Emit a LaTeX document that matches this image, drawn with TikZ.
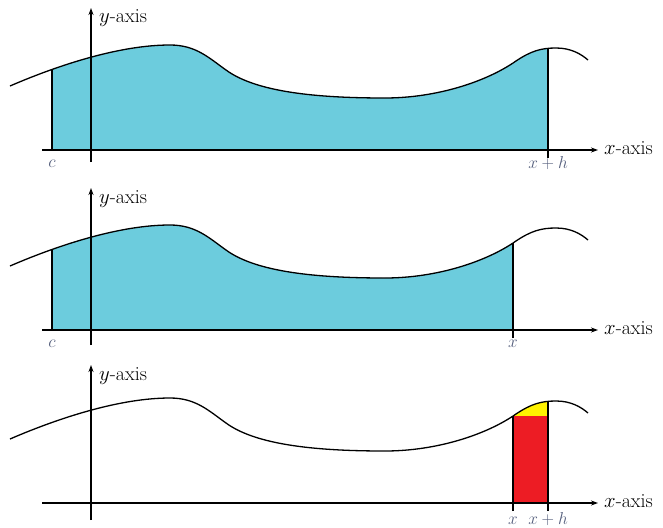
\documentclass[tikz,border=0pt]{standalone}
\usetikzlibrary{arrows.meta}
\definecolor{areacyan}{RGB}{108,204,221}
\definecolor{rectred}{RGB}{237,28,36}
\definecolor{capyellow}{RGB}{255,242,0}
\definecolor{labgray}{RGB}{85,95,125}
\newcommand{\wavecurve}{(-81,64) .. controls (-30,86) and (30,105) .. (79,105)
  .. controls (105,105) and (118,92) .. (135,80)
  .. controls (165,58) and (225,52) .. (294,52)
  .. controls (345,52) and (395,68) .. (425,89)
  .. controls (440,99) and (450,102) .. (465,102)
  .. controls (480,102) and (490,96) .. (497,90)}
\tikzset{
  axisline/.style={line width=2.2pt,-{Stealth[length=7pt,width=5pt]}},
  waveline/.style={line width=1.3pt},
  bound/.style={line width=1.2pt},
  axlabel/.style={font=\fontsize{20}{24}\selectfont,inner sep=0pt},
  ticklabel/.style={font=\fontsize{17}{20}\selectfont,text=labgray,inner sep=0pt,anchor=base}
}
\begin{document}
\begin{tikzpicture}[x=1pt,y=1pt]
\useasboundingbox (0,0) rectangle (663,-527);
% ---------- panel 1 ----------
\begin{scope}[shift={(91,-150)}]
  \begin{scope}
    \clip (-39,-1) rectangle (457,130);
    \fill[areacyan] \wavecurve -- (497,0) -- (-81,0) -- cycle;
  \end{scope}
  \coordinate (c1b) at (-39,0); \coordinate (c1t) at (-39,81);
  \coordinate (h1b) at (457,-8); \coordinate (h1t) at (457,101.5);
  \draw[bound] (c1b) -- (c1t);
  \draw[bound] (h1b) -- (h1t);
  \coordinate (xa1s) at (-49,0); \coordinate (xa1e) at (507,0);
  \coordinate (ya1s) at (0,-12); \coordinate (ya1e) at (0,142);
  \draw[axisline] (xa1s) -- (xa1e);
  \draw[axisline] (ya1s) -- (ya1e);
  \draw[waveline] \wavecurve;
  \node[axlabel,anchor=base west] (ylab1) at (8,127) {$y$-axis};
  \node[axlabel,anchor=base west] (xlab1) at (513,-4) {$x$-axis};
  \node[ticklabel] (cl1) at (-39,-17) {$c$};
  \node[ticklabel] (hl1) at (457,-18) {$x+h$};
\end{scope}
% ---------- panel 2 ----------
\begin{scope}[shift={(91,-330)}]
  \begin{scope}
    \clip (-39,-1) rectangle (422,130);
    \fill[areacyan] \wavecurve -- (497,0) -- (-81,0) -- cycle;
  \end{scope}
  \coordinate (c2b) at (-39,0); \coordinate (c2t) at (-39,81);
  \coordinate (x2b) at (422,-8); \coordinate (x2t) at (422,87);
  \draw[bound] (c2b) -- (c2t);
  \draw[bound] (x2b) -- (x2t);
  \coordinate (xa2s) at (-49,0); \coordinate (xa2e) at (507,0);
  \coordinate (ya2s) at (0,-15); \coordinate (ya2e) at (0,142);
  \draw[axisline] (xa2s) -- (xa2e);
  \draw[axisline] (ya2s) -- (ya2e);
  \draw[waveline] \wavecurve;
  \node[axlabel,anchor=base west] (ylab2) at (8,127) {$y$-axis};
  \node[axlabel,anchor=base west] (xlab2) at (513,-4) {$x$-axis};
  \node[ticklabel] (cl2) at (-39,-17) {$c$};
  \node[ticklabel] (xl2) at (422,-17) {$x$};
\end{scope}
% ---------- panel 3 ----------
\begin{scope}[shift={(91,-503)}]
  \begin{scope}
    \clip (422,-1) rectangle (457,130);
    \fill[capyellow] \wavecurve -- (497,0) -- (-81,0) -- cycle;
  \end{scope}
  \fill[rectred] (422,0) rectangle (457,87);
  \coordinate (x3b) at (422,-8); \coordinate (x3t) at (422,87);
  \coordinate (h3b) at (457,-8); \coordinate (h3t) at (457,101.5);
  \draw[bound] (x3b) -- (x3t);
  \draw[bound] (h3b) -- (h3t);
  \coordinate (xa3s) at (-49,0); \coordinate (xa3e) at (507,0);
  \coordinate (ya3s) at (0,-17); \coordinate (ya3e) at (0,138);
  \draw[axisline] (xa3s) -- (xa3e);
  \draw[axisline] (ya3s) -- (ya3e);
  \draw[waveline] \wavecurve;
  \node[axlabel,anchor=base west] (ylab3) at (8,123) {$y$-axis};
  \node[axlabel,anchor=base west] (xlab3) at (513,-4) {$x$-axis};
  \node[ticklabel] (xl3) at (422,-21) {$x$};
  \node[ticklabel] (hl3) at (457,-21) {$x+h$};
\end{scope}
\end{tikzpicture}
\end{document}
